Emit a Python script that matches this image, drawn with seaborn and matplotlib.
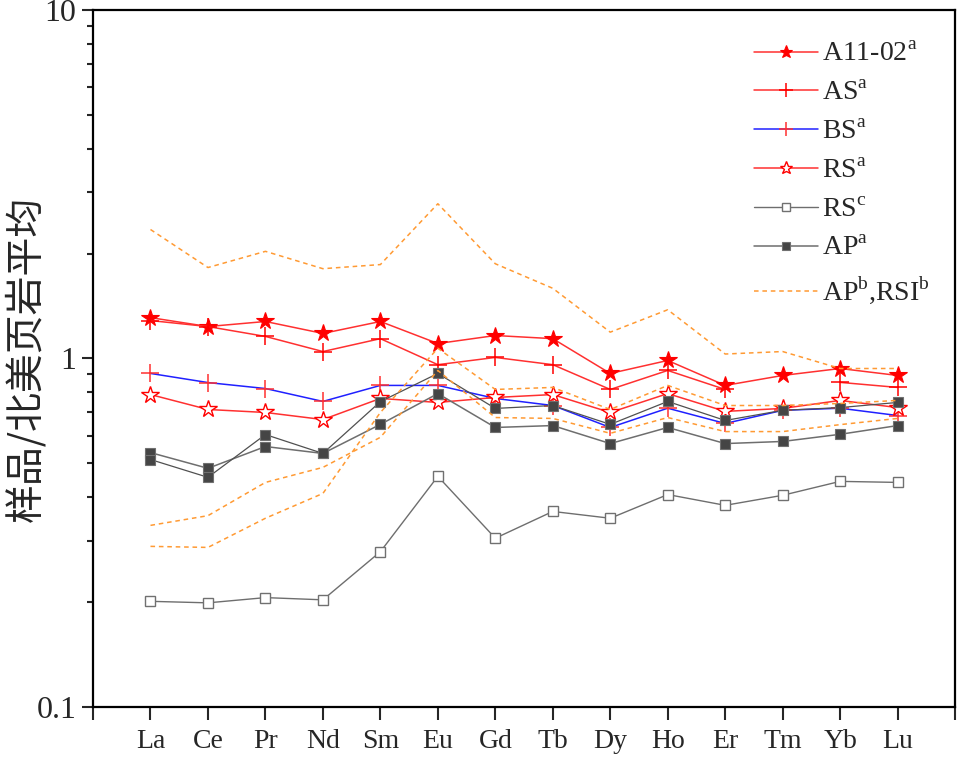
import numpy as np
import matplotlib
matplotlib.use("Agg")
import matplotlib.pyplot as plt
import seaborn as sns
from matplotlib.ticker import FixedLocator, LogLocator, NullFormatter

# REE categories (chondrite order)
ree = ['La', 'Ce', 'Pr', 'Nd', 'Sm', 'Eu', 'Gd', 'Tb', 'Dy', 'Ho', 'Er', 'Tm', 'Yb', 'Lu']

# values (sample / NASC)
a1102 = [1.31, 1.235, 1.277, 1.18, 1.277, 1.104, 1.164, 1.14, 0.906, 0.987, 0.837, 0.894, 0.936, 0.894]
as_a = [1.285, 1.235, 1.157, 1.047, 1.14, 0.96, 1.007, 0.96, 0.815, 0.924, 0.815, np.nan, 0.854, 0.826]
bs_a = [0.906, 0.853, 0.82, 0.753, 0.837, 0.837, 0.768, 0.733, 0.634, 0.72, 0.651, 0.71, 0.72, 0.686]
rs_a = [0.788, 0.714, 0.70, 0.668, 0.768, 0.748, 0.773, 0.788, 0.70, 0.793, 0.705, 0.719, 0.758, 0.723]
rs_c = [0.201, 0.199, 0.206, 0.203, 0.279, 0.459, 0.305, 0.364, 0.348, 0.407, 0.379, 0.405, 0.444, 0.441]
ap_a1 = [0.537, 0.484, 0.559, 0.534, 0.647, 0.793, 0.634, 0.642, 0.57, 0.634, 0.57, 0.578, 0.606, 0.642]
ap_a2 = [0.513, 0.456, 0.605, 0.534, 0.752, 0.906, 0.719, 0.733, 0.647, 0.753, 0.664, 0.71, 0.723, 0.748]
ap_b1 = [2.345, 1.824, 2.03, 1.81, 1.86, 2.78, 1.87, 1.59, 1.19, 1.38, 1.03, 1.047, 0.936, 0.936]
ap_b2 = [0.289, 0.287, 0.348, 0.41, 0.70, 1.07, 0.815, 0.826, 0.714, 0.837, 0.733, 0.733, 0.743, 0.758]
ap_b3 = [0.332, 0.354, 0.441, 0.487, 0.594, 0.924, 0.677, 0.673, 0.61, 0.677, 0.617, 0.617, 0.646, 0.673]

sns.set_style("white")
plt.rcParams['font.family'] = ['Liberation Serif', 'DejaVu Sans']
plt.rcParams['mathtext.fontset'] = 'custom'
plt.rcParams['mathtext.rm'] = 'Liberation Serif'

fig = plt.figure(figsize=(9.57, 7.58), dpi=100)
ax = fig.add_axes([0.0972, 0.0673, 0.9008, 0.9195])

x = np.arange(1, len(ree) + 1)


def draw(vals, label, **kw):
    # split on missing values so the line leaves a gap
    vals = np.asarray(vals, dtype=float)
    ok = ~np.isnan(vals)
    seg = np.cumsum(~ok)
    first = True
    for s in np.unique(seg[ok]):
        m = ok & (seg == s)
        sns.lineplot(x=x[m], y=vals[m], ax=ax, label=label if first else '_nolegend_', **kw)
        first = False


red_line = '#ff3030'
grey_line = '#6e6e6e'
orange = '#ff9a33'

draw(a1102, 'A11-02$^\\mathregular{a}$', color=red_line, lw=1.1, marker='*', markersize=13,
     markerfacecolor='red', markeredgecolor='red', markeredgewidth=0.8)
draw(as_a, 'AS$^\\mathregular{a}$', color=red_line, lw=1.1, marker='+', markersize=13,
     markeredgecolor='red', markeredgewidth=1.1)
draw(bs_a, 'BS$^\\mathregular{a}$', color='#2020ff', lw=1.1, marker='+', markersize=13,
     markeredgecolor='#ff3030', markeredgewidth=1.1)
draw(rs_a, 'RS$^\\mathregular{a}$', color=red_line, lw=1.1, marker='*', markersize=13,
     markerfacecolor='white', markeredgecolor='red', markeredgewidth=1.0)
draw(rs_c, 'RS$^\\mathregular{c}$', color=grey_line, lw=1.0, marker='s', markersize=7,
     markerfacecolor='white', markeredgecolor='#707070', markeredgewidth=1.0)
draw(ap_a1, 'AP$^\\mathregular{a}$', color=grey_line, lw=1.1, marker='s', markersize=7.5,
     markerfacecolor='#454545', markeredgecolor='#707070', markeredgewidth=0.8)
draw(ap_a2, '_nolegend_', color='#505050', lw=0.9, marker='s', markersize=7.5,
     markerfacecolor='#454545', markeredgecolor='#707070', markeredgewidth=0.8)
draw(ap_b1, 'AP$^\\mathregular{b}$,RSI$^\\mathregular{b}$', color=orange, lw=1.1, linestyle=(0, (3, 2.5)))
draw(ap_b2, '_nolegend_', color=orange, lw=1.1, linestyle=(0, (3, 2.5)))
draw(ap_b3, '_nolegend_', color=orange, lw=1.1, linestyle=(0, (3, 2.5)))

ax.set_yscale('log')
ax.set_ylim(0.1, 10)
ax.set_xlim(0, len(ree) + 1)

ax.xaxis.set_major_locator(FixedLocator(np.arange(0, len(ree) + 2)))
ax.set_xticklabels([''] + ree + [''])
ax.set_yticks([0.1, 1, 10])
ax.set_yticklabels(['0.1', '1', '10'])
ax.yaxis.set_minor_locator(LogLocator(base=10, subs=np.arange(2, 10)))
ax.yaxis.set_minor_formatter(NullFormatter())

ax.tick_params(axis='x', which='major', direction='out', length=9, width=1.5,
               labelsize=20, pad=7, bottom=True, top=False)
ax.tick_params(axis='y', which='major', direction='out', length=8, width=1.5,
               labelsize=23, pad=4, left=True, right=False)
ax.tick_params(axis='y', which='minor', direction='out', length=4.5, width=1.5, left=True, right=False)

for sp in ax.spines.values():
    sp.set_linewidth(1.6)
    sp.set_color('black')

ax.set_xlabel('')
ax.set_ylabel('样品/北美页岩平均', fontsize=28, family=['Noto Sans CJK SC', 'DejaVu Sans'])
ax.yaxis.set_label_coords(-0.054, 0.5)

ax.legend(loc='upper right', frameon=False, fontsize=20, handlelength=2.3, handletextpad=0.15,
          labelspacing=0.48, markerscale=0.75, borderaxespad=0.5, bbox_to_anchor=(1.0, 0.99))

fig.savefig('out.png', dpi=100)
